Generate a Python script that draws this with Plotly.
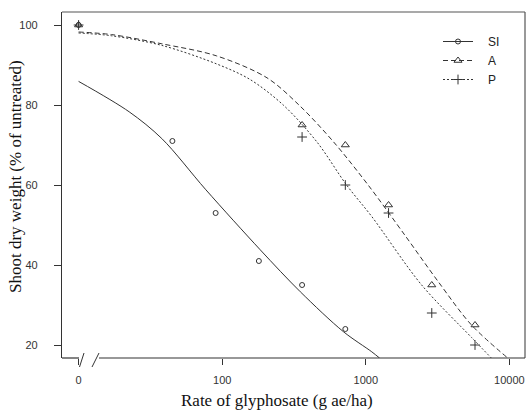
import plotly.graph_objects as go

# ---- data ----
ZERO_POS = 10  # log-axis position used for the untreated (0) rate

si_rates = [0, 45, 90, 180, 360, 720]
si_obs = [100, 71, 53, 41, 35, 24]
a_rates = [0, 360, 720, 1440, 2880, 5760]
a_obs = [100, 75, 70, 55, 35, 25]
p_rates = [0, 360, 720, 1440, 2880, 5760]
p_obs = [100, 72, 60, 53, 28, 20]

si_curve_x = [10, 22.5, 38, 77, 184, 350, 700, 1100, 1250]
si_curve_y = [85.9, 78.3, 71.6, 58.8, 43.8, 33.3, 23.3, 18.3, 16.7]
a_curve_x = [10, 17, 38, 91, 205, 347, 597, 1043, 1875, 3199, 5445, 9770]
a_curve_y = [98.25, 97.6, 95.3, 92.3, 86.8, 79.8, 70.75, 59.9, 47.4, 35.8, 25.0, 16.7]
p_curve_x = [10, 17, 38, 91, 156, 268, 457, 738, 1101, 2448, 5445, 7500]
p_curve_y = [98.0, 97.3, 94.9, 90.3, 86.4, 79.9, 70.75, 59.9, 52.1, 35.0, 21.9, 16.7]

x_tickvals = [10, 100, 1000, 10000]
x_ticktext = ["0", "100", "1000", "10000"]
y_tickvals = [20, 40, 60, 80, 100]

series_names = ["SI", "A", "P"]


def pos(rates):
    return [ZERO_POS if r == 0 else r for r in rates]


INK = "#333333"
fig = go.Figure()

styles = {
    "SI": dict(dash="solid", symbol="circle-open", size=5),
    "A": dict(dash="5px,3px", symbol="triangle-up-open", size=7),
    "P": dict(dash="2px,2px", symbol="cross-thin-open", size=7),
}
curves = {"SI": (si_curve_x, si_curve_y), "A": (a_curve_x, a_curve_y), "P": (p_curve_x, p_curve_y)}
obs = {"SI": (si_rates, si_obs), "A": (a_rates, a_obs), "P": (p_rates, p_obs)}

for name in series_names:
    st = styles[name]
    cx, cy = curves[name]
    fig.add_trace(go.Scatter(x=cx, y=cy, mode="lines",
                             line=dict(color=INK, width=1, dash=st["dash"], shape="spline", smoothing=0.9),
                             showlegend=False, hoverinfo="skip"))
    ox, oy = obs[name]
    fig.add_trace(go.Scatter(x=pos(ox), y=oy, mode="markers",
                             marker=dict(symbol=st["symbol"], size=st["size"], color=INK, line=dict(color=INK, width=1)),
                             showlegend=False, name=name))

for name in series_names:
    st = styles[name]
    fig.add_trace(go.Scatter(x=[None], y=[None], mode="lines+markers", name="\u00a0\u00a0\u00a0" + name,
                             line=dict(color=INK, width=1, dash=st["dash"]),
                             marker=dict(symbol=st["symbol"], size=st["size"], color=INK, line=dict(color=INK, width=1))))

L, R, T, B = 62, 1, 12, 54
W, H = 526, 412
pw, ph = W - L - R, H - T - B


def px_x(px):
    return (px - L) / pw


def px_y(py):
    return (H - B - py) / ph


shapes = [
    dict(type="line", xref="paper", yref="paper", x0=0, x1=1, y0=1, y1=1, line=dict(color="#555555", width=1.2)),
    dict(type="line", xref="paper", yref="paper", x0=1, x1=1, y0=0, y1=1, line=dict(color="#555555", width=1.2)),
    dict(type="line", xref="paper", yref="paper", x0=0, x1=px_x(79), y0=0, y1=0, line=dict(color=INK, width=1.2)),
    dict(type="line", xref="paper", yref="paper", x0=px_x(99), x1=1, y0=0, y1=0, line=dict(color=INK, width=1.2)),
    dict(type="line", xref="paper", yref="paper", x0=px_x(79.5), x1=px_x(84), y0=px_y(367), y1=px_y(353), line=dict(color=INK, width=1)),
    dict(type="line", xref="paper", yref="paper", x0=px_x(92), x1=px_x(99), y0=px_y(367), y1=px_y(353), line=dict(color=INK, width=1)),
]

annotations = [
    dict(text="Rate of glyphosate (g ae/ha)", xref="paper", yref="paper", x=px_x(277), y=px_y(400),
         xanchor="center", yanchor="middle", showarrow=False,
         font=dict(family="Liberation Serif", size=17, color="#111111")),
    dict(text="Shoot dry weight (% of untreated)", xref="paper", yref="paper", x=px_x(15), y=px_y(177),
         xanchor="center", yanchor="middle", showarrow=False, textangle=-90,
         font=dict(family="Liberation Serif", size=17, color="#111111")),
]

fig.update_layout(
    width=W, height=H,
    margin=dict(l=L, r=R, t=T, b=B, pad=0),
    paper_bgcolor="white", plot_bgcolor="white",
    font=dict(family="Liberation Sans", size=11, color=INK),
    shapes=shapes, annotations=annotations,
    legend=dict(x=px_x(438), y=px_y(27), xanchor="left", yanchor="top", bgcolor="rgba(0,0,0,0)",
                font=dict(family="Liberation Sans", size=12, color="#222222"), itemwidth=30, tracegroupgap=0),
    xaxis=dict(type="log", range=[0.8845, 4.1085], tickvals=x_tickvals, ticktext=x_ticktext,
               showgrid=False, zeroline=False, showline=False, ticks="outside", ticklen=6, tickcolor=INK,
               tickwidth=1, ticklabelstandoff=6),
    yaxis=dict(range=[16.75, 103.25], tickvals=y_tickvals, showgrid=False, zeroline=False,
               showline=True, linecolor=INK, linewidth=1.2, ticks="outside", ticklen=7, tickcolor=INK,
               tickwidth=1, ticklabelstandoff=14),
)

fig.write_html("out.html", config={"displayModeBar": False},
               post_script="document.body.style.margin='0';")
